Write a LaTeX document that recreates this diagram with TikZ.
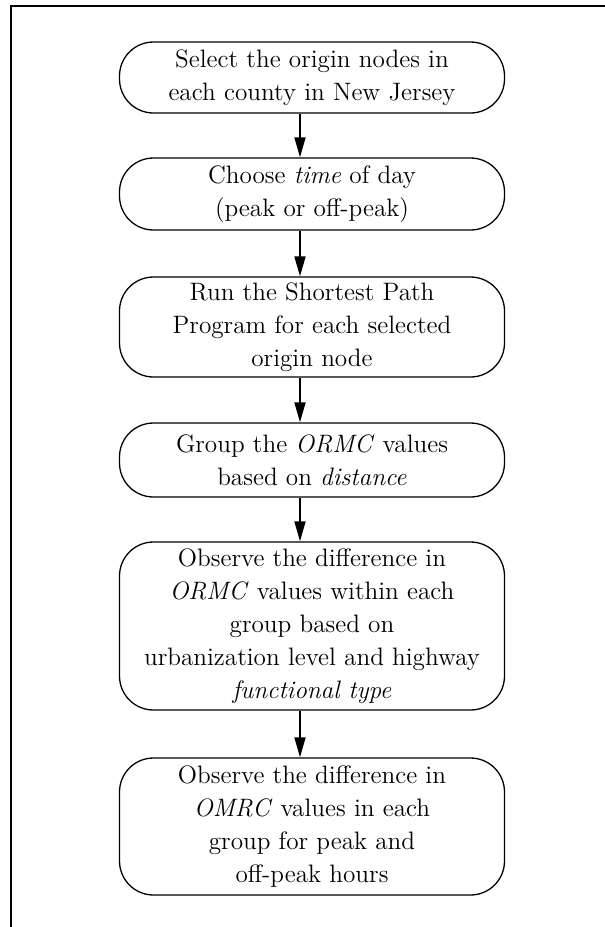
\documentclass[tikz,border=0pt]{standalone}
\usetikzlibrary{arrows.meta}
\tikzset{stepbox/.style={draw, line width=0.65pt, rounded corners=17pt,
                         minimum width=192.5pt, align=center, inner sep=0pt,
                         font=\fontsize{12.6}{16.5}\selectfont},
         flow/.style={line width=0.9pt, -{Triangle[length=10pt,width=5.5pt]}}}

\begin{document}
\begin{tikzpicture}
       \useasboundingbox (0,0) rectangle (302.5pt,-463.5pt);
       \draw[line width=1pt] (5.5pt,-463.5pt) -- (5.5pt,-3pt) -- (302.5pt,-3pt);
       \node at (156pt,-38.75pt) [stepbox, minimum height=35.5pt] (S1)
          {Select the origin nodes in\\each county in New Jersey};
       \node at (156pt,-97pt) [stepbox, minimum height=36pt] (S2)
          {Choose \emph{time} of day\\(peak or off-peak)};
       \node at (156pt,-163.5pt) [stepbox, minimum height=50pt] (S3)
          {Run the Shortest Path\\Program for each selected\\origin node};
       \node at (156pt,-230pt) [stepbox, minimum height=37pt] (S4)
          {Group the \emph{ORMC} values\\based on \emph{distance}};
       \node at (156pt,-313pt) [stepbox, minimum height=84pt] (S5)
          {Observe the difference in\\\emph{ORMC} values within each\\group based on\\urbanization level and highway\\\emph{functional type}};
       \node at (156pt,-413.25pt) [stepbox, minimum height=68.5pt] (S6)
          {Observe the difference in\\\emph{OMRC} values in each\\group for peak and\\off-peak hours};
       \foreach \a/\b in {S1/S2,S2/S3,S3/S4,S4/S5,S5/S6}
          \draw[flow] ([xshift=-6pt]\a.south) -- ([xshift=-6pt]\b.north);
      \end{tikzpicture}
\end{document}
